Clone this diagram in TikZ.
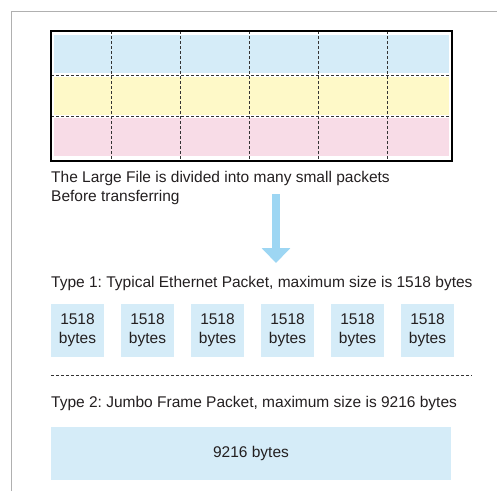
\documentclass[tikz,border=0pt]{standalone}
\usepackage{fontspec}
\setmainfont{Liberation Sans}
\usepackage{xcolor}
\usepackage{tikz}
\usetikzlibrary{arrows.meta,positioning,calc}
\frenchspacing

\definecolor{fileblue}{HTML}{D5ECF8}
\definecolor{fileyellow}{HTML}{FEF9C8}
\definecolor{filepink}{HTML}{F8DCE7}
\definecolor{arrowblue}{HTML}{9DD6F3}
\definecolor{framegray}{HTML}{B0B0B0}
\definecolor{textgray}{HTML}{231F20}

\tikzset{
  label text/.style={anchor=west, inner sep=0, text=textgray, font=\fontsize{15.5}{19}\selectfont},
  packet/.style={fill=fileblue, minimum width=53pt, minimum height=53pt, inner sep=0, align=center, text=textgray, font=\fontsize{15.5}{19}\selectfont},
  cut line/.style={densely dashed, line width=0.8pt, black!80},
}

\begin{document}
\begin{tikzpicture}[x=1pt, y=-1pt]
		\useasboundingbox (0,0) rectangle (497,491);
		\draw[framegray, line width=1pt] (11,491) -- (11,11) -- (497,11);
		% the large file
		\fill[fileblue] (54,35) rectangle (449,73);
		\fill[fileyellow] (54,77) rectangle (449,115);
		\fill[filepink] (54,118) rectangle (449,156);
		\foreach \x in {111,180,249,318,387}
			\draw[cut line] (\x,31) -- (\x,161);
		\draw[cut line] (51,75) -- (452,75);
		\draw[cut line] (51,116.5) -- (452,116.5);
		\draw[line width=1.5pt] (51,31) rectangle (452,161);
		\node[label text, anchor=north west, align=left] (cap) at (51,171.5) {The Large File is divided into many small packets\\Before transferring};
		% arrow down
		\coordinate (top) at (276,194);
		\coordinate (tip) at (276,263);
		\draw[arrowblue, line width=8pt, -{Triangle[width=28pt,length=15pt]}] (top) -- (tip);
		% type 1
		\node[label text] (type1) at (51,283) {Type 1: Typical Ethernet Packet, maximum size is 1518 bytes};
		\foreach \i in {1,...,6}
			\node[packet] (p\i) at ({77.5+70*(\i-1)},330.5) {1518\\bytes};
		\draw[cut line] (51,375.5) -- (472,375.5);
		% type 2
		\node[label text] (type2) at (51,403) {Type 2: Jumbo Frame Packet, maximum size is 9216 bytes};
		\node[packet, minimum width=400pt] (jumbo) at (251,453.5) {9216 bytes};
	\end{tikzpicture}
\end{document}
